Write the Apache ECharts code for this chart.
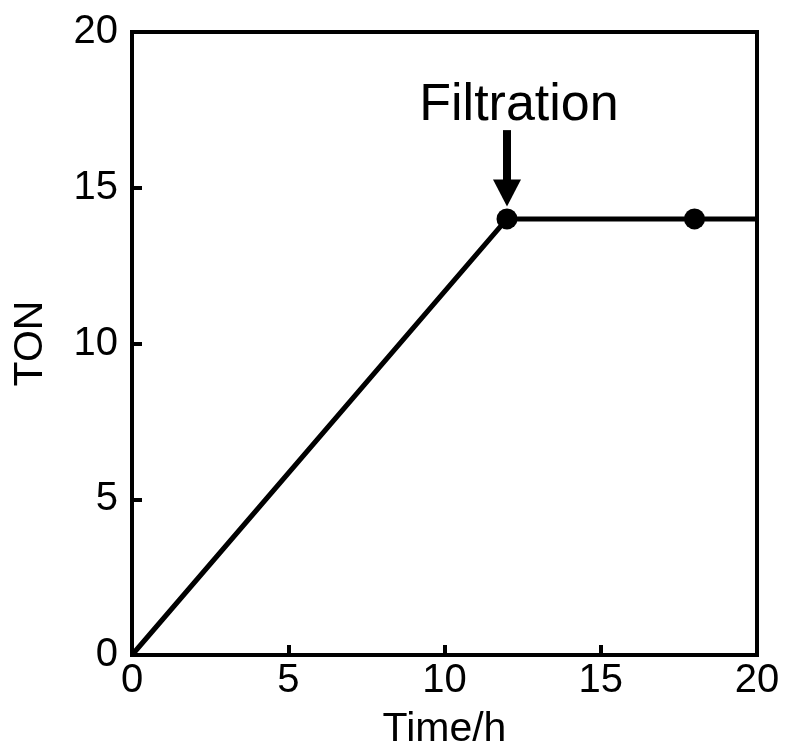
<!DOCTYPE html>
<html>
<head>
<meta charset="utf-8">
<script src="https://cdn.jsdelivr.net/npm/echarts@6/dist/echarts.min.js"></script>
<style>
  html, body { margin: 0; padding: 0; background: #fff; }
  #chart { width: 787px; height: 747px; }
</style>
</head>
<body>
<div id="chart"></div>
<script>
// TON versus reaction time; catalyst filtered off at 12 h
const timeLine = [0, 12, 18, 20];
const tonLine = [0, 14, 14, 14];
const timeMarks = [12, 18];
const tonMarks = [14, 14];
const xTicks = [0, 5, 10, 15, 20];
const yTicks = [0, 5, 10, 15, 20];

// annotation: label text and arrow span (data units)
const noteText = 'Filtration';
const noteX = 12;
const arrowFrom = 16.85;
const arrowTo = 14.4;
const noteY = 17.65;

const FONT = 'Liberation Sans, Arial, sans-serif';

const chart = echarts.init(document.getElementById('chart'), null, { renderer: 'canvas' });

chart.setOption({
  animation: false,
  backgroundColor: '#fff',
  grid: {
    left: 132, top: 32, width: 625, height: 623,
    containLabel: false, outerBoundsMode: 'none',
    show: true, borderColor: '#000', borderWidth: 4, backgroundColor: 'transparent'
  },
  xAxis: {
    type: 'value', min: xTicks[0], max: xTicks[xTicks.length - 1], interval: 5,
    name: 'Time/h', nameLocation: 'middle', nameGap: 54,
    nameTextStyle: { color: '#000', fontSize: 41, fontFamily: FONT },
    axisLine: { show: true, lineStyle: { color: '#000', width: 4 } },
    axisTick: { show: true, inside: true, length: 10, lineStyle: { color: '#000', width: 4 } },
    axisLabel: { color: '#000', fontSize: 40, fontFamily: FONT, margin: 6 },
    splitLine: { show: false }
  },
  yAxis: {
    type: 'value', min: yTicks[0], max: yTicks[yTicks.length - 1], interval: 5,
    name: 'TON', nameLocation: 'middle', nameGap: 81,
    nameTextStyle: { color: '#000', fontSize: 41, fontFamily: FONT },
    axisLine: { show: true, lineStyle: { color: '#000', width: 4 } },
    axisTick: { show: true, inside: true, length: 10, lineStyle: { color: '#000', width: 4 } },
    axisLabel: { color: '#000', fontSize: 40, fontFamily: FONT, margin: 14 },
    splitLine: { show: false }
  },
  series: [
    {
      type: 'line',
      data: timeLine.map((t, i) => [t, tonLine[i]]),
      showSymbol: false,
      symbol: 'none',
      lineStyle: { color: '#000', width: 5 },
      z: 3
    },
    {
      type: 'scatter',
      data: timeMarks.map((t, i) => [t, tonMarks[i]]),
      symbol: 'circle',
      symbolSize: 21,
      itemStyle: { color: '#000', opacity: 1 },
      z: 4
    },
    {
      type: 'custom',
      data: [[noteX, arrowFrom, arrowTo, noteY]],
      z: 5,
      renderItem: function (params, api) {
        const top = api.coord([api.value(0), api.value(1)]);
        const tip = api.coord([api.value(0), api.value(2)]);
        const label = api.coord([api.value(0), api.value(3)]);
        const headH = 27, headW = 28, shaftW = 8;
        return {
          type: 'group',
          children: [
            {
              type: 'rect',
              shape: { x: top[0] - shaftW / 2, y: top[1], width: shaftW, height: tip[1] - headH - top[1] + 1 },
              style: { fill: '#000' }
            },
            {
              type: 'polygon',
              shape: { points: [[tip[0] - headW / 2, tip[1] - headH], [tip[0] + headW / 2, tip[1] - headH], [tip[0], tip[1]]] },
              style: { fill: '#000' }
            },
            {
              type: 'text',
              x: label[0] + 12,
              y: label[1],
              style: {
                text: noteText, fill: '#000', fontSize: 52, fontFamily: FONT,
                align: 'center', verticalAlign: 'middle'
              }
            }
          ]
        };
      }
    }
  ]
});
</script>
</body>
</html>
